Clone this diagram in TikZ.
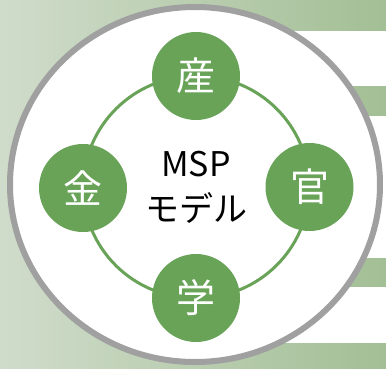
\documentclass[tikz,border=0pt]{standalone}
\usepackage{fontspec}
\setmainfont{Noto Sans CJK JP}
\usetikzlibrary{backgrounds}
\definecolor{mspgreen}{HTML}{68A358}
\definecolor{bgleft}{HTML}{D0DCCB}
\definecolor{bgright}{HTML}{A3BF95}
\definecolor{ringgray}{HTML}{A0A0A0}
\tikzstyle{member} = [circle, fill=mspgreen, minimum size=88pt, inner sep=0pt, text=white, font=\fontsize{39}{39}\selectfont]
\tikzstyle{model} = [align=center, font=\fontsize{34}{45}\selectfont]
\tikzstyle{band} = [fill=white]
\tikzstyle{ring} = [draw=ringgray, fill=white, line width=6pt]
\tikzstyle{cycle} = [draw=mspgreen, line width=3pt]

\begin{document}
\begin{tikzpicture}[x=1pt, y=-1pt]
    \useasboundingbox (0,0) rectangle (386,368);

    % Members.
    \node (san) [member] at (196,76) {産};
    \node (kan) [member] at (309.5,187) {官};
    \node (gaku) [member] at (196,298) {学};
    \node (kin) [member] at (83,188) {金};

    % Model.
    \node (model) [model] at (196,187) {MSP\\モデル};

    \begin{pgfonlayer}{background}
        % Background and bands.
        \shade [left color=bgleft, right color=bgright] (0,0) rectangle (386,368);
        \foreach \t/\b in {31/86, 116/258, 287/343} {
            \fill [band] (250,\t) rectangle (386,\b);
        }

        % Ring.
        \draw [ring] (195,184.5) ellipse [x radius=185, y radius=177.5];

        % Arcs.
        \foreach \a/\b in {san/kan, kan/gaku, gaku/kin, kin/san} {
            \draw [cycle] (\a.center) to [bend left=45] (\b.center);
        }
    \end{pgfonlayer}
\end{tikzpicture}
\end{document}
